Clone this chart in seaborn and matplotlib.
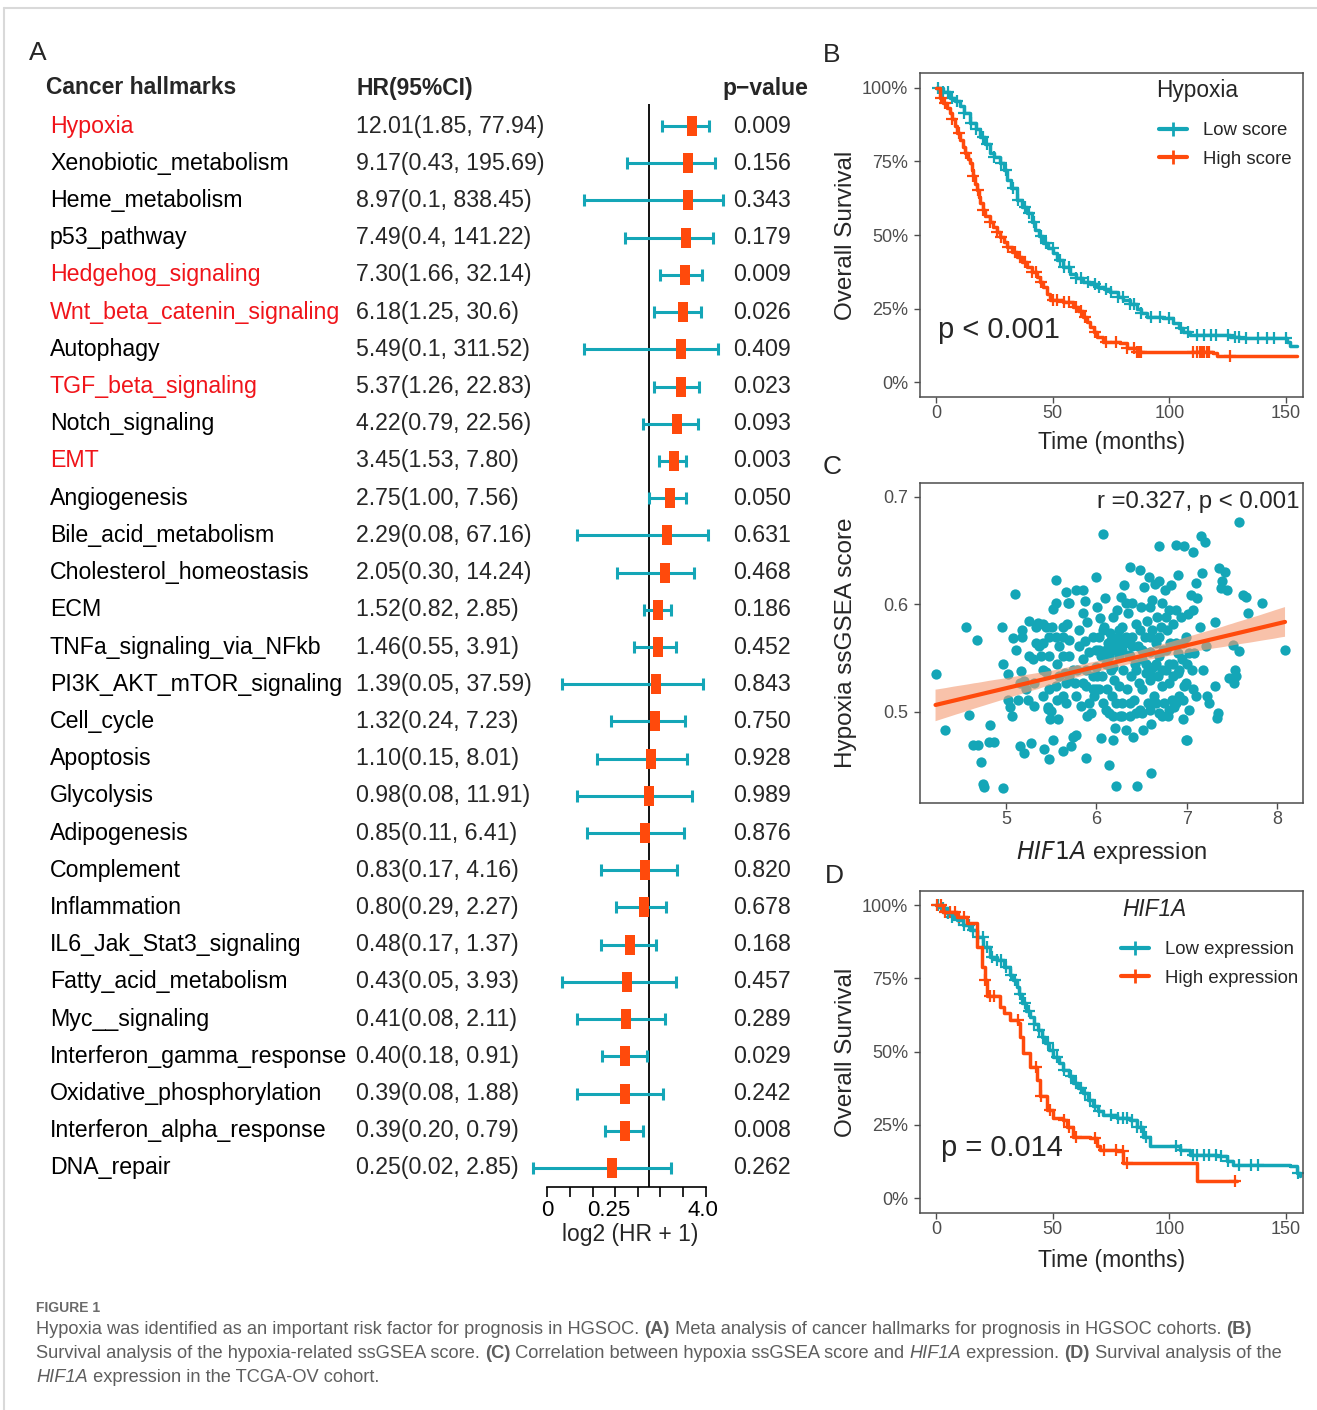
import numpy as np
import seaborn as sns
import matplotlib.pyplot as plt
from matplotlib.lines import Line2D
from matplotlib.path import Path
from matplotlib.transforms import blended_transform_factory

# ---------------- data: panel A (forest plot) ----------------
hallmarks = ["Hypoxia", "Xenobiotic_metabolism", "Heme_metabolism", "p53_pathway",
             "Hedgehog_signaling", "Wnt_beta_catenin_signaling", "Autophagy",
             "TGF_beta_signaling", "Notch_signaling", "EMT", "Angiogenesis",
             "Bile_acid_metabolism", "Cholesterol_homeostasis", "ECM",
             "TNFa_signaling_via_NFkb", "PI3K_AKT_mTOR_signaling", "Cell_cycle",
             "Apoptosis", "Glycolysis", "Adipogenesis", "Complement", "Inflammation",
             "IL6_Jak_Stat3_signaling", "Fatty_acid_metabolism", "Myc__signaling",
             "Interferon_gamma_response", "Oxidative_phosphorylation",
             "Interferon_alpha_response", "DNA_repair"]
hr = [12.01, 9.17, 8.97, 7.49, 7.30, 6.18, 5.49, 5.37, 4.22, 3.45, 2.75, 2.29, 2.05,
      1.52, 1.46, 1.39, 1.32, 1.10, 0.98, 0.85, 0.83, 0.80, 0.48, 0.43, 0.41, 0.40,
      0.39, 0.39, 0.25]
hr_lo = [1.85, 0.43, 0.1, 0.4, 1.66, 1.25, 0.1, 1.26, 0.79, 1.53, 1.00, 0.08, 0.30,
         0.82, 0.55, 0.05, 0.24, 0.15, 0.08, 0.11, 0.17, 0.29, 0.17, 0.05, 0.08, 0.18,
         0.08, 0.20, 0.02]
hr_hi = [77.94, 195.69, 838.45, 141.22, 32.14, 30.6, 311.52, 22.83, 22.56, 7.80, 7.56,
         67.16, 14.24, 2.85, 3.91, 37.59, 7.23, 8.01, 11.91, 6.41, 4.16, 2.27, 1.37,
         3.93, 2.11, 0.91, 1.88, 0.79, 2.85]
hr_text = ["12.01(1.85, 77.94)", "9.17(0.43, 195.69)", "8.97(0.1, 838.45)",
           "7.49(0.4, 141.22)", "7.30(1.66, 32.14)", "6.18(1.25, 30.6)",
           "5.49(0.1, 311.52)", "5.37(1.26, 22.83)", "4.22(0.79, 22.56)",
           "3.45(1.53, 7.80)", "2.75(1.00, 7.56)", "2.29(0.08, 67.16)",
           "2.05(0.30, 14.24)", "1.52(0.82, 2.85)", "1.46(0.55, 3.91)",
           "1.39(0.05, 37.59)", "1.32(0.24, 7.23)", "1.10(0.15, 8.01)",
           "0.98(0.08, 11.91)", "0.85(0.11, 6.41)", "0.83(0.17, 4.16)",
           "0.80(0.29, 2.27)", "0.48(0.17, 1.37)", "0.43(0.05, 3.93)",
           "0.41(0.08, 2.11)", "0.40(0.18, 0.91)", "0.39(0.08, 1.88)",
           "0.39(0.20, 0.79)", "0.25(0.02, 2.85)"]
p_text = ["0.009", "0.156", "0.343", "0.179", "0.009", "0.026", "0.409", "0.023",
          "0.093", "0.003", "0.050", "0.631", "0.468", "0.186", "0.452", "0.843",
          "0.750", "0.928", "0.989", "0.876", "0.820", "0.678", "0.168", "0.457",
          "0.289", "0.029", "0.242", "0.008", "0.262"]
highlight = ["Hypoxia", "Hedgehog_signaling", "Wnt_beta_catenin_signaling",
             "TGF_beta_signaling", "EMT"]

# ---------------- data: panel B (KM by hypoxia score) ----------------
b_low_t = [0, 3, 6, 8, 10.3, 12, 14.6, 17, 18.9, 21, 23, 25, 27.4, 29, 30.3, 32, 34.6,
           37, 38.9, 41, 42.4, 44, 46, 48, 50.3, 52, 54.6, 57.4, 60, 63.1, 66, 68.9,
           72, 74.6, 78, 80.3, 83, 86, 88, 90.3, 97.4, 101.7, 104, 106, 108.9, 126,
           130.3, 150.3, 151.7, 154.6]
b_low_s = [100, 98.5, 96.6, 95.5, 93.8, 91.5, 88, 86, 83.5, 81, 77.8, 76.5, 74.4, 72,
           68.8, 66, 62, 59.5, 57.4, 54.5, 51.7, 49.5, 47.2, 45.5, 43.8, 41.5, 39.2,
           36.9, 35.5, 34.1, 33.2, 32.4, 31.5, 30.7, 29, 27.8, 26.5, 25, 23.5, 22.2,
           21.6, 19.9, 18.5, 17, 15.9, 15.3, 14.8, 13.6, 12.2, 12.2]
b_low_cens = [1, 3, 5, 7, 9, 12, 15, 17, 20, 22, 25, 28, 30, 33, 35, 38, 40, 42, 45,
              47, 50, 53, 55, 57, 60, 62, 65, 68, 70, 73, 75, 78, 80, 83, 85, 88, 92,
              96, 100, 105, 108, 112, 115, 118, 120, 125, 128, 130, 133, 138, 142,
              145, 150]
b_high_t = [0, 1.5, 3.1, 4.5, 6, 7, 8.1, 9, 10.3, 11.5, 12.4, 13.5, 14.6, 15.3, 16,
            16.7, 17.4, 18.2, 18.9, 20, 21, 23, 24.6, 26, 27.4, 29, 30.3, 32.5, 34.6,
            37, 38.9, 41, 43.1, 44.5, 46, 47.5, 48.9, 54.6, 58.9, 61, 63.1, 64.5, 66,
            67.5, 68.9, 71.7, 78.9, 81.7, 86, 118.9, 120.3, 154.6]
b_high_s = [100, 96.5, 94.9, 93.2, 91.5, 89.5, 87, 84.8, 82.4, 80, 77.8, 76, 74.4, 72,
            69.9, 67.5, 65.3, 63, 60.8, 58.5, 56.3, 54.5, 52.8, 51, 49.4, 47.5, 46,
            44.3, 42.6, 40.9, 39.2, 37.5, 35.8, 34, 32.4, 30, 27.8, 27.3, 25.6, 24,
            22.2, 20.5, 18.8, 17, 15.3, 13.6, 13.1, 11.4, 10.2, 9.7, 8.8, 8.8]
b_high_cens = [2, 4, 7, 10, 13, 16, 18, 20, 23, 26, 28, 31, 34, 36, 38, 41, 43, 45,
               50, 52, 55, 57, 60, 62, 64, 68, 73, 77, 82, 85, 86, 87, 88, 110, 112,
               113, 114, 115, 116, 117, 126]

# ---------------- data: panel C (HIF1A vs hypoxia score) ----------------
hif1a = [4.22, 4.32, 4.56, 4.59, 4.68, 4.63, 4.69, 4.72, 4.75, 4.76, 4.82, 4.81, 4.87,
         4.97, 4.96, 4.97, 5.02, 5.02, 5.04, 5.07, 5.08, 5.10, 5.16, 5.20, 5.18, 5.13,
         5.17, 5.20, 5.24, 5.28, 5.31, 5.30, 5.35, 5.37, 5.39, 5.41, 5.42, 5.44, 5.46,
         5.46, 5.48, 5.49, 5.50, 5.52, 5.51, 5.52, 5.55, 5.55, 5.55, 5.57, 5.57, 5.58,
         5.63, 5.63, 5.63, 5.65, 5.66, 5.67, 5.68, 5.69, 5.70, 5.72, 5.74, 5.77, 5.77,
         5.79, 5.81, 5.83, 5.85, 5.85, 5.87, 5.87, 5.89, 5.89, 5.90, 5.90, 5.92, 5.94,
         5.96, 5.98, 6.00, 6.00, 6.00, 6.01, 6.03, 6.03, 6.04, 6.05, 6.06, 6.07, 6.07,
         6.09, 6.10, 6.11, 6.12, 6.13, 6.14, 6.14, 6.15, 6.16, 6.17, 6.18, 6.19, 6.20,
         6.21, 6.22, 6.23, 6.24, 6.25, 6.25, 6.26, 6.27, 6.28, 6.29, 6.30, 6.31, 6.32,
         6.33, 6.34, 6.35, 6.36, 6.37, 6.37, 6.38, 6.39, 6.40, 6.41, 6.42, 6.43, 6.44,
         6.45, 6.46, 6.47, 6.48, 6.48, 6.49, 6.51, 6.51, 6.52, 6.53, 6.54, 6.55, 6.56,
         6.57, 6.58, 6.59, 6.59, 6.61, 6.61, 6.62, 6.62, 6.63, 6.64, 6.65, 6.66, 6.67,
         6.68, 6.69, 6.69, 6.70, 6.70, 6.72, 6.73, 6.73, 6.74, 6.75, 6.76, 6.77, 6.78,
         6.79, 6.80, 6.81, 6.82, 6.83, 6.84, 6.85, 6.85, 6.86, 6.88, 6.88, 6.90, 6.90,
         6.91, 6.92, 6.94, 6.95, 6.96, 6.97, 6.97, 6.99, 6.99, 7.00, 7.01, 7.02, 7.03,
         7.05, 7.06, 7.07, 7.07, 7.08, 7.10, 7.10, 7.12, 7.15, 7.16, 7.17, 7.18, 7.20,
         7.21, 7.23, 7.25, 7.31, 7.32, 7.34, 7.35, 7.36, 7.38, 7.39, 7.42, 7.45, 7.47,
         7.51, 7.52, 7.54, 7.55, 7.58, 7.58, 7.62, 7.66, 7.68, 7.83, 8.09,
         5.11, 5.26, 5.33, 5.31, 5.41, 5.48, 5.59, 5.70, 5.76, 5.77, 5.66, 5.63, 5.59,
         5.81, 5.96, 6.00, 6.01, 6.05, 6.07, 6.11, 6.14, 6.16, 6.18, 6.22, 6.25, 6.29,
         6.33, 6.37, 6.40, 6.44, 6.48, 6.51, 6.55, 6.59, 6.62, 6.66, 6.70, 6.73, 6.77,
         6.81, 6.85, 6.88, 6.92, 6.96, 6.99, 7.03, 7.07, 6.96, 6.88, 6.81, 6.73, 6.66,
         6.59, 6.51, 6.44, 6.37, 6.29, 6.22, 6.18, 6.11, 6.03, 5.96, 5.92, 5.89, 5.85,
         5.74, 5.70, 5.63, 5.55, 5.48, 5.44, 5.41, 5.33, 5.26, 5.18, 5.15, 5.22, 5.41,
         5.48, 5.70, 5.85, 6.18, 6.33, 6.59, 6.77]
hyp_score = [0.535, 0.483, 0.579, 0.497, 0.567, 0.469, 0.469, 0.453, 0.433, 0.430, 0.488,
             0.472, 0.472, 0.429, 0.579, 0.545, 0.535, 0.511, 0.505, 0.496, 0.569, 0.610,
             0.468, 0.462, 0.576, 0.511, 0.538, 0.529, 0.511, 0.471, 0.506, 0.549, 0.583,
             0.561, 0.552, 0.564, 0.466, 0.537, 0.505, 0.503, 0.456, 0.493, 0.501, 0.474,
             0.579, 0.596, 0.623, 0.601, 0.524, 0.545, 0.511, 0.493, 0.464, 0.579, 0.570,
             0.536, 0.612, 0.508, 0.582, 0.601, 0.567, 0.468, 0.477, 0.613, 0.479, 0.539,
             0.576, 0.506, 0.592, 0.549, 0.566, 0.603, 0.524, 0.457, 0.496, 0.584, 0.556,
             0.499, 0.533, 0.515, 0.626, 0.542, 0.521, 0.598, 0.558, 0.570, 0.587, 0.476,
             0.533, 0.666, 0.508, 0.579, 0.606, 0.545, 0.521, 0.564, 0.499, 0.451, 0.573,
             0.539, 0.515, 0.474, 0.558, 0.530, 0.485, 0.431, 0.595, 0.570, 0.552, 0.524,
             0.496, 0.607, 0.579, 0.508, 0.539, 0.618, 0.564, 0.483, 0.521, 0.592, 0.553,
             0.635, 0.496, 0.533, 0.570, 0.601, 0.477, 0.511, 0.545, 0.582, 0.431, 0.561,
             0.527, 0.632, 0.502, 0.598, 0.549, 0.521, 0.483, 0.616, 0.570, 0.536, 0.585,
             0.508, 0.626, 0.556, 0.530, 0.489, 0.443, 0.576, 0.604, 0.542, 0.515, 0.619,
             0.564, 0.588, 0.533, 0.654, 0.499, 0.552, 0.622, 0.579, 0.524, 0.601, 0.558,
             0.508, 0.613, 0.539, 0.576, 0.496, 0.595, 0.527, 0.564, 0.618, 0.511, 0.545,
             0.582, 0.505, 0.655, 0.595, 0.627, 0.536, 0.555, 0.515, 0.588, 0.549, 0.493,
             0.654, 0.524, 0.474, 0.570, 0.474, 0.545, 0.591, 0.502, 0.609, 0.539, 0.649,
             0.595, 0.555, 0.620, 0.515, 0.606, 0.579, 0.664, 0.629, 0.539, 0.658, 0.561,
             0.515, 0.508, 0.524, 0.584, 0.494, 0.499, 0.634, 0.615, 0.622, 0.630, 0.613,
             0.532, 0.562, 0.527, 0.539, 0.533, 0.677, 0.557, 0.609, 0.607, 0.592, 0.601,
             0.558,
             0.558, 0.552, 0.564, 0.527, 0.539, 0.552, 0.561, 0.552, 0.527, 0.515, 0.527,
             0.515, 0.533, 0.561, 0.570, 0.558, 0.533, 0.552, 0.576, 0.558, 0.552, 0.567,
             0.542, 0.564, 0.576, 0.558, 0.570, 0.552, 0.561, 0.539, 0.576, 0.558, 0.545,
             0.570, 0.533, 0.545, 0.570, 0.539, 0.558, 0.545, 0.533, 0.564, 0.539, 0.564,
             0.527, 0.555, 0.521, 0.511, 0.508, 0.502, 0.496, 0.508, 0.502, 0.499, 0.499,
             0.508, 0.496, 0.508, 0.496, 0.502, 0.521, 0.521, 0.508, 0.539, 0.527, 0.539,
             0.533, 0.552, 0.570, 0.570, 0.579, 0.582, 0.579, 0.585, 0.570, 0.527, 0.521,
             0.515, 0.521, 0.601, 0.613, 0.588, 0.601, 0.598, 0.588]

# ---------------- data: panel D (KM by HIF1A expression) ----------------
d_low_t = [0, 2, 4.6, 7, 8.9, 11.7, 14.6, 17.4, 20.3, 23.1, 26, 28.9, 31.7, 33, 34.6,
           35.7, 36.7, 38.5, 40.3, 42, 43.9, 45.3, 46.7, 48.5, 50.3, 52.5, 54.6, 57,
           58.9, 61, 63.1, 65.3, 67.4, 69.5, 71.7, 77.4, 83.1, 86, 88.9, 91.7, 104.6,
           108.9, 120.3, 124.6, 127.4, 151.7, 154.6, 156]
d_low_s = [100, 98.9, 97.2, 96, 94.9, 93.2, 91.5, 89.2, 85.8, 82.4, 81.3, 79, 76.1,
           74.5, 72.2, 69.5, 66.5, 64, 61.9, 59.5, 57.4, 55, 52.8, 50.5, 48.3, 46, 43.8,
           41.5, 39.2, 37.5, 35.8, 33.5, 31.3, 29.8, 28.4, 27.3, 26.7, 24.4, 21, 17.6,
           16.5, 14.8, 14.2, 12.5, 11.4, 10.8, 8.5, 7.4]
d_low_cens = [1, 3, 5, 7, 10, 12, 14, 16, 18, 20, 22, 24, 26, 28, 30, 32, 34, 36, 38,
              40, 42, 44, 46, 48, 50, 52, 55, 58, 60, 62, 64, 66, 68, 70, 75, 78, 80,
              82, 84, 86, 88, 90, 103, 105, 110, 112, 115, 117, 120, 122, 125, 130,
              135, 138, 155]
d_high_t = [0, 3.1, 8.9, 13.1, 17.4, 19.6, 21, 21.7, 27.4, 28.9, 31.7, 35.3, 36, 37.4,
            40.3, 43.1, 44.6, 47.4, 50.3, 54.6, 56, 58.9, 66, 68.9, 70.3, 77.4, 80.3,
            111.7, 128.9]
d_high_s = [100, 97.7, 96, 93.8, 85.8, 79, 74.4, 68.8, 65.3, 63.1, 60.8, 59.7, 55.1,
            49.4, 44.9, 40.3, 34.7, 30.1, 27.3, 26.7, 24.4, 21, 20.5, 17.6, 16.5, 15.9,
            11.9, 5.7, 5.7]
d_high_cens = [0.5, 2, 4, 6, 8, 10, 12, 21, 23, 25, 35, 43, 45, 49, 55, 57, 60, 68,
               72, 77, 80, 82, 128]

TEAL = "#14A6B7"
ORANGE = "#FF4A0C"
RED = "#F0141A"
GREY = "#4D4D4D"

W, H = 1317, 1410


def fx(px):
    return px / W


def fy(py):
    return 1 - py / H


def box(l, t, r, b):
    return [fx(l), fy(b), (r - l) / W, (b - t) / H]


sns.set_style("ticks")
plt.rcParams["font.family"] = ["Liberation Sans", "DejaVu Sans"]

fig = plt.figure(figsize=(W / 100, H / 100), dpi=100)
bg = fig.add_axes([0, 0, 1, 1])
bg.set_axis_off()
bg.set_xlim(0, 1)
bg.set_ylim(0, 1)

# light frame around the figure
bg.plot([fx(4), 1], [fy(8), fy(8)], color="#D9D9D9", lw=1.5)
bg.plot([fx(4), fx(4)], [fy(8), 0], color="#D9D9D9", lw=1.5)

# panel letters
for lab, (px, py) in {"A": (38, 53), "B": (832, 55), "C": (832, 467), "D": (834, 876)}.items():
    fig.text(fx(px), fy(py), lab, fontsize=19, ha="center", va="center")

# ================= panel A =================
def to_x(v):
    return np.log2(np.log2(np.asarray(v, dtype=float) + 1))


axA = fig.add_axes(box(525, 104, 730, 1187))
rows = np.arange(len(hallmarks))
px_per_unit = 22.6
axA.set_xlim((525 - 649) / px_per_unit, (730 - 649) / px_per_unit)
axA.set_ylim(28 + (1187 - 1168) / 37.2, -(126 - 104) / 37.2)

est = to_x(hr)
lo = to_x(hr_lo)
hi = to_x(hr_hi)
axA.axvline(0, color="black", lw=1.3, zorder=1)
axA.errorbar(est, rows, xerr=[est - lo, hi - est], fmt="none", ecolor=TEAL,
             elinewidth=2.2, capsize=4.3, capthick=2.2, zorder=2)
rect = Path([(-0.55, -1), (0.55, -1), (0.55, 1), (-0.55, 1), (-0.55, -1)])
sns.scatterplot(x=est, y=rows, marker=rect, s=207, color=ORANGE, linewidth=0,
                ax=axA, zorder=3)

for side in ["left", "right", "top"]:
    axA.spines[side].set_visible(False)
axA.spines["bottom"].set_bounds(-4.5, 2.5)
axA.spines["bottom"].set_linewidth(1.2)
axA.spines["bottom"].set_color("black")
axA.set_yticks([])
axA.xaxis.remove_overlapping_locs = False
axA.set_xticks([-4.5, -1.8, 2.4])
axA.set_xticklabels(["0", "0.25", "4.0"])
axA.set_xticks(np.arange(-4.5, 2.6, 1.0), minor=True)
axA.tick_params(axis="x", which="major", length=0, pad=9, labelsize=16, colors="black")
axA.tick_params(axis="x", which="minor", length=7, width=1.2, color="black")
axA.set_xlabel("log2 (HR + 1)", fontsize=16.5)
axA.xaxis.set_label_coords((630 - 525) / 205, -(1223 - 1187) / 1083)

trans = blended_transform_factory(fig.transFigure, axA.transData)
for i, name in enumerate(hallmarks):
    col = RED if name in highlight else "black"
    axA.text(fx(50), i, name, transform=trans, fontsize=16.7, color=col,
             ha="left", va="center")
    axA.text(fx(356), i, hr_text[i], transform=trans, fontsize=16.7,
             ha="left", va="center")
    axA.text(fx(733), i, p_text[i], transform=trans, fontsize=16.7,
             ha="left", va="center")

fig.text(fx(46), fy(88), "Cancer hallmarks", fontsize=16.5, weight="bold", va="center")
fig.text(fx(356), fy(88), "HR(95%CI)", fontsize=16.5, weight="bold", va="center")
fig.text(fx(722), fy(88), "p\u2212value", fontsize=16.5, weight="bold", va="center")


# ================= KM helpers =================
def on_curve(tc, t, s):
    idx = np.searchsorted(np.asarray(t), np.asarray(tc), side="right") - 1
    return np.asarray(s)[idx]


def km_curve(ax, t, s, cens, color):
    sns.lineplot(x=t, y=s, ax=ax, color=color, lw=2.5, estimator=None, sort=False,
                 drawstyle="steps-post")
    sns.scatterplot(x=cens, y=on_curve(cens, t, s), ax=ax, marker="+", s=85,
                    color=color, linewidth=1.6)


def style_panel(ax):
    for sp in ax.spines.values():
        sp.set_color(GREY)
        sp.set_linewidth(1.1)
    ax.tick_params(length=4, width=1, color=GREY, labelcolor=GREY, labelsize=13)
    ax.tick_params(axis="y", pad=4.5)
    ax.tick_params(axis="x", pad=2)


def km_axes(ax):
    ax.set_xlim(-6.9, 157.3)
    ax.set_xticks([0, 50, 100, 150])
    ax.set_yticks([0, 25, 50, 75, 100])
    ax.set_yticklabels(["0%", "25%", "50%", "75%", "100%"])
    ax.set_ylabel("Overall Survival", fontsize=17.5)
    ax.set_xlabel("Time (months)", fontsize=16.6)
    ax.yaxis.set_label_coords(-0.164, 0.5)
    style_panel(ax)


def km_legend(ax, labels, x0, y0):
    handles = [Line2D([], [], color=TEAL, lw=3, marker="+", markersize=10, mew=2),
               Line2D([], [], color=ORANGE, lw=3, marker="+", markersize=10, mew=2)]
    ax.legend(handles, labels, loc="upper left", bbox_to_anchor=(fx(x0), fy(y0)),
              bbox_transform=fig.transFigure, frameon=False, fontsize=13.4,
              handlelength=1.5, handletextpad=0.85, labelspacing=0.62, borderpad=0,
              borderaxespad=0)


# ================= panel B =================
axB = fig.add_axes(box(920, 73, 1303, 397))
km_curve(axB, b_low_t, b_low_s, b_low_cens, TEAL)
km_curve(axB, b_high_t, b_high_s, b_high_cens, ORANGE)
axB.set_ylim(-5.1, 105.1)
km_axes(axB)
axB.xaxis.set_label_coords(0.5, -0.105)
axB.text(0.047, 0.207, "p < 0.001", transform=axB.transAxes, fontsize=21,
         ha="left", va="center")
fig.text(fx(1156), fy(91), "Hypoxia", fontsize=16.3, ha="left", va="center")
km_legend(axB, ["Low score", "High score"], 1159, 122)

# ================= panel C =================
axC = fig.add_axes(box(920, 483, 1303, 803))
sns.scatterplot(x=hif1a, y=hyp_score, ax=axC, s=55, color=TEAL, linewidth=0)
sns.regplot(x=hif1a, y=hyp_score, ax=axC, scatter=False, color=ORANGE,
            line_kws={"lw": 3})
for coll in axC.collections[1:]:
    coll.set_facecolor("#F49A72")
    coll.set_alpha(0.6)
    coll.set_edgecolor("none")
axC.set_xlim(4.048, 8.289)
axC.set_ylim(0.4153, 0.713)
axC.set_xticks([5, 6, 7, 8])
axC.set_yticks([0.5, 0.6, 0.7])
axC.set_ylabel("Hypoxia ssGSEA score", fontsize=17.5)
axC.set_xlabel("$\\it{HIF1A}$ expression", fontsize=17)
axC.yaxis.set_label_coords(-0.164, 0.5)
axC.xaxis.set_label_coords(0.5, -0.112)
style_panel(axC)
axC.text(0.992, 0.94, "r =0.327, p < 0.001", transform=axC.transAxes, fontsize=17.3,
         ha="right", va="center")

# ================= panel D =================
axD = fig.add_axes(box(920, 891, 1303, 1213))
km_curve(axD, d_low_t, d_low_s, d_low_cens, TEAL)
km_curve(axD, d_high_t, d_high_s, d_high_cens, ORANGE)
axD.set_ylim(-5.1, 104.8)
km_axes(axD)
axD.xaxis.set_label_coords(0.5, -0.112)
axD.text(0.055, 0.202, "p = 0.014", transform=axD.transAxes, fontsize=21,
         ha="left", va="center")
fig.text(fx(1122), fy(910), "HIF1A", fontsize=16.3, style="italic", ha="left",
         va="center")
km_legend(axD, ["Low expression", "High expression"], 1121, 941)

# ================= caption =================
CAP = "#5E5E5E"
fig.text(fx(36), fy(1308), "FIGURE 1", fontsize=10, weight="bold", color="#6B6B6B",
         va="center")


def rich_line(py, parts, size=13.15):
    prev = bg.text(fx(36), fy(py), parts[0][0], fontsize=size, color=CAP,
                   weight=parts[0][1], style=parts[0][2], ha="left", va="bottom")
    for s, w, st in parts[1:]:
        prev = bg.annotate(s, xy=(1, 0), xycoords=prev, fontsize=size, color=CAP,
                           weight=w, style=st, ha="left", va="bottom")


n, b, i_ = ("normal", "normal"), ("bold", "normal"), ("normal", "italic")
rich_line(1338, [("Hypoxia was identified as an important risk factor for prognosis in HGSOC. ", *n),
                 ("(A)", *b),
                 (" Meta analysis of cancer hallmarks for prognosis in HGSOC cohorts. ", *n),
                 ("(B)", *b)])
rich_line(1362, [("Survival analysis of the hypoxia-related ssGSEA score. ", *n),
                 ("(C)", *b),
                 (" Correlation between hypoxia ssGSEA score and ", *n),
                 ("HIF1A", *i_),
                 (" expression. ", *n),
                 ("(D)", *b),
                 (" Survival analysis of the", *n)])
rich_line(1386, [("HIF1A", *i_), (" expression in the TCGA-OV cohort.", *n)])

fig.savefig("out.png", dpi=100)
